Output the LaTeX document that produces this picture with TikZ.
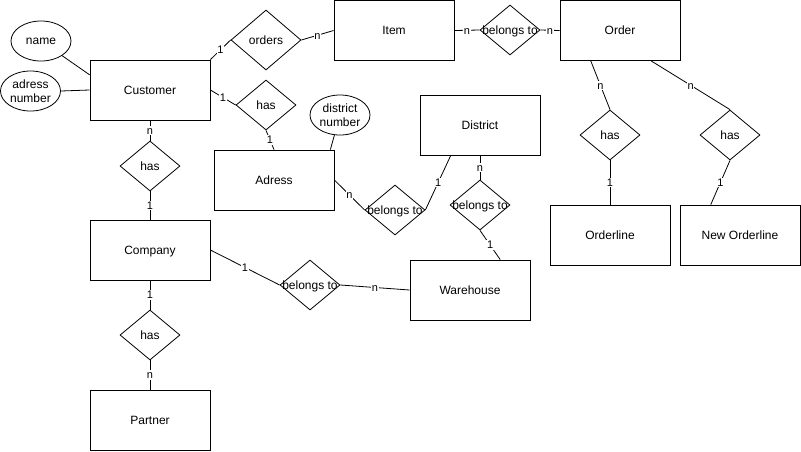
\documentclass[tikz,border=0pt]{standalone}
\usepackage{fontspec}
\setmainfont{Liberation Sans}
\usetikzlibrary{shapes.geometric,calc}
\begin{document}
\begin{tikzpicture}[x=1pt,y=-1pt,line width=0.8pt,
  ent/.style={draw,rectangle,minimum width=120pt,minimum height=60pt,inner sep=0pt,text height=8.6pt,text depth=0pt,font=\fontsize{12}{14}\selectfont},
  rel/.style={draw,diamond,minimum width=60pt,minimum height=50pt,inner sep=0pt,text height=8.6pt,text depth=0pt,font=\fontsize{12}{14}\selectfont},
  attr/.style={draw,ellipse,minimum width=60pt,minimum height=40pt,inner sep=0pt},
  attrtxt/.style={align=center,inner sep=0pt,font=\fontsize{12}{14}\selectfont},
  lbl/.style={fill=white,inner sep=0.8pt,text height=7.9pt,text depth=0pt,font=\fontsize{11}{12}\selectfont}]
\useasboundingbox (0,0) rectangle (801,451);
% entities
\node[ent] (Customer) at (150,90) {Customer};
\node[ent] (Item) at (394,30.5) {Item};
\node[ent] (Order) at (620,30.5) {Order};
\node[ent] (Adress) at (274,180) {Adress};
\node[ent] (District) at (480,125) {District};
\node[ent] (Company) at (150,250) {Company};
\node[ent] (Partner) at (150,420) {Partner};
\node[ent] (Warehouse) at (470,290) {Warehouse};
\node[ent] (Orderline) at (610,235) {Orderline};
\node[ent] (NewOrderline) at (740,235) {New Orderline};
% relations
\node[rel,minimum width=70pt,minimum height=60pt] (orders) at (266,40) {\makebox[0pt]{orders}};
\node[rel] (hasCA) at (266,105) {\makebox[0pt]{has}};
\node[rel] (hasCC) at (150,166) {\makebox[0pt]{has}};
\node[rel] (btIO) at (510,30) {\makebox[0pt]{belongs to}};
\node[rel] (hasOO) at (610,135) {\makebox[0pt]{has}};
\node[rel] (hasON) at (730,135) {\makebox[0pt]{has}};
\node[rel] (btDW) at (480,205) {\makebox[0pt]{belongs to}};
\node[rel] (btAD) at (395,210) {\makebox[0pt]{belongs to}};
\node[rel] (btCW) at (310,285) {\makebox[0pt]{belongs to}};
\node[rel] (hasCP) at (150,335) {\makebox[0pt]{has}};
% attributes
\node[attr] (name) at (41,41) {};
\node[attrtxt] (nameT) at (name) {name};
\node[attr] (adrnum) at (30.5,91) {};
\node[attrtxt] (adrnumT) at (adrnum) {adress\\number};
\node[attr] (distnum) at (340,115) {};
\node[attrtxt] (distnumT) at (distnum) {district\\number};
% attachment points
\coordinate (cuA) at ($(Customer.north west)!0.25!(Customer.south west)$);
\coordinate (adA) at ($(Adress.north west)!0.9667!(Adress.north east)$);
\coordinate (diA) at ($(District.south west)!0.258!(District.south east)$);
\coordinate (waA) at ($(Warehouse.north west)!0.75!(Warehouse.north east)$);
\coordinate (orA) at ($(Order.south west)!0.258!(Order.south east)$);
\coordinate (orB) at ($(Order.south west)!0.758!(Order.south east)$);
\coordinate (noA) at ($(NewOrderline.north west)!0.258!(NewOrderline.north east)$);
% connectors
\draw (name) -- (cuA);
\draw (adrnum.east) -- (Customer.west);
\draw (distnum) -- (adA);
\draw (Customer.north east) -- node[lbl]{1} (orders.west);
\draw (orders.east) -- node[lbl]{n} (Item.west);
\draw (Item.east) -- node[lbl]{n} (btIO.west);
\draw (btIO.east) -- node[lbl]{n} (Order.west);
\draw (Customer.east) -- node[lbl]{1} (hasCA.west);
\draw (hasCA.south) -- node[lbl]{1} (Adress.north);
\draw (Adress.east) -- node[lbl]{n} (btAD.west);
\draw (btAD.east) -- node[lbl]{1} (diA);
\draw (District.south) -- node[lbl]{n} (btDW.north);
\draw (btDW.south) -- node[lbl]{1} (waA);
\draw (Customer.south) -- node[lbl]{n} (hasCC.north);
\draw (hasCC.south) -- node[lbl]{1} (Company.north);
\draw (Company.east) -- node[lbl]{1} (btCW.west);
\draw (btCW.east) -- node[lbl]{n} (Warehouse.west);
\draw (Company.south) -- node[lbl]{1} (hasCP.north);
\draw (hasCP.south) -- node[lbl]{n} (Partner.north);
\draw (orA) -- node[lbl]{n} (hasOO.north);
\draw (orB) -- node[lbl]{n} (hasON.north);
\draw (hasOO.south) -- node[lbl]{1} (Orderline.north);
\draw (hasON.south) -- node[lbl]{1} (noA);
\end{tikzpicture}
\end{document}
